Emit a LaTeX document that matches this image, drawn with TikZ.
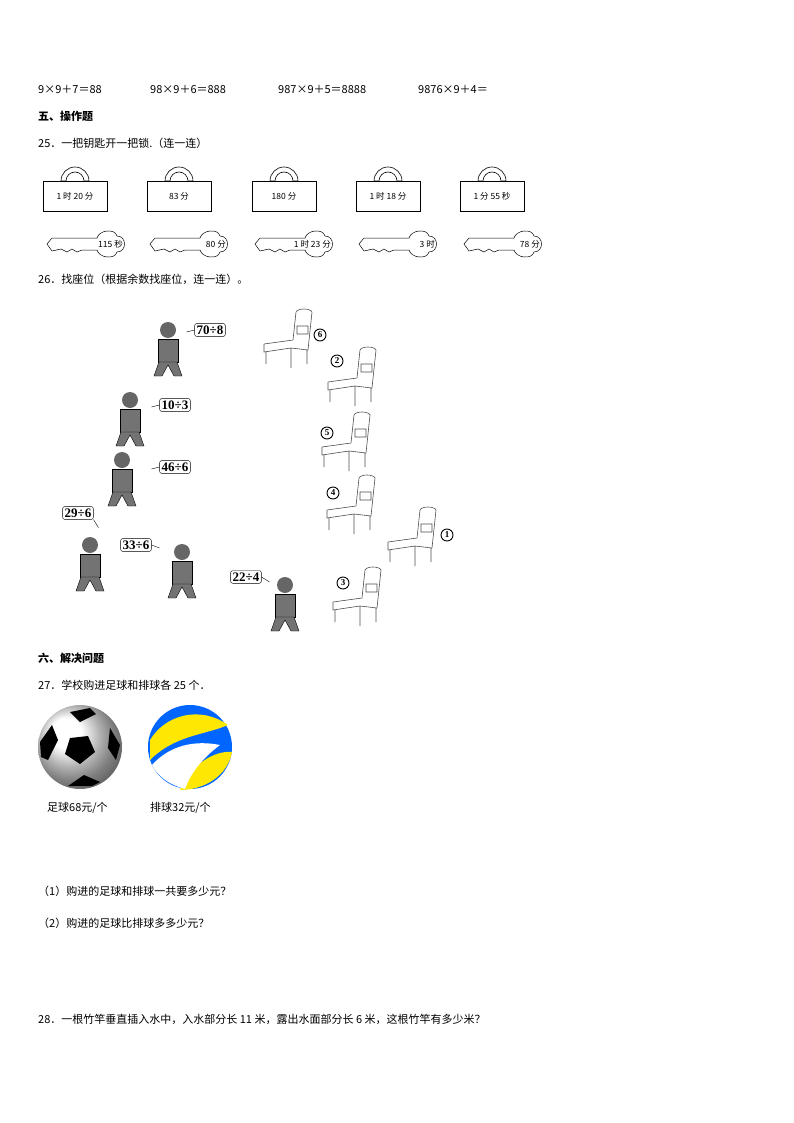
\documentclass[tikz,border=0pt]{standalone}
\usepackage{fontspec}
\setmainfont{Liberation Serif}
\newfontfamily\cjk{Noto Sans CJK SC}
\begin{document}
\begin{tikzpicture}[x=1pt,y=-1pt,
  txt/.style={anchor=west,inner sep=0,font=\cjk\fontsize{11}{13}\selectfont},
  bold/.style={txt,font=\cjk\bfseries\fontsize{11}{13}\selectfont},
  lockbody/.style={draw,line width=0.6pt,minimum width=64,minimum height=30,inner sep=0,font=\cjk\fontsize{8.5}{10}\selectfont},
  bubble/.style={draw,rounded corners=2,inner sep=2,font=\bfseries\fontsize{13}{15}\selectfont},
  num/.style={circle,draw,line width=0.9pt,inner sep=0,minimum size=12,font=\bfseries\fontsize{9}{10}\selectfont},
  kid/.style={fill=black!55,draw=black}]
\useasboundingbox (0,0) rectangle (794,1123);
\node[txt] (e1) at (38,90) {9×9＋7＝88};
\node[txt] (e2) at (150,90) {98×9＋6＝888};
\node[txt] (e3) at (278,90) {987×9＋5＝8888};
\node[txt] (e4) at (418,90) {9876×9＋4＝};
\node[bold] (h5) at (38,116) {五、操作题};
\node[txt] (q25) at (38,143) {25．一把钥匙开一把锁.（连一连）};
% locks
\foreach \x/\t [count=\i] in {75/1 时 20 分,179/83 分,284/180 分,388/1 时 18 分,492/1 分 55 秒}{
  \draw[line width=0.6pt,fill=white] (\x-14,181) arc (180:360:14) -- (\x+9,181) arc (360:180:9) -- cycle;
  \node[lockbody] (L\i) at (\x,196) {\t};
}
% keys
\foreach \x/\t [count=\i] in {87/115 秒,190/80 分,295/1 时 23 分,399/3 时,504/78 分}{
  \draw[line width=0.5pt] (\x-40,244) -- (\x-35,238) -- (\x+10,238) .. controls (\x+12,230) and (\x+28,228) .. (\x+30,236)
    .. controls (\x+40,236) and (\x+40,252) .. (\x+30,252) .. controls (\x+28,260) and (\x+12,258) .. (\x+10,250)
    -- (\x-5,250) -- (\x-10,252) -- (\x-15,249) -- (\x-20,252) -- (\x-26,249) -- (\x-35,251) -- cycle;
  \node[inner sep=0,anchor=east,font=\cjk\fontsize{8.5}{10}\selectfont] (K\i) at (\x+36,244) {\t};
}
\node[txt] (q26) at (38,279) {26．找座位（根据余数找座位，连一连）。};
% bubbles
\node[bubble] (b1) at (210,330) {70÷8};
\node[bubble] (b2) at (175,405) {10÷3};
\node[bubble] (b3) at (175,467) {46÷6};
\node[bubble] (b4) at (78,513) {29÷6};
\node[bubble] (b5) at (136,545) {33÷6};
\node[bubble] (b6) at (246,577) {22÷4};
% kids
\foreach \cx/\cy in {168/330, 130/400, 122/460, 90/545, 182/552, 285/585}{
  \fill[black!60] (\cx,\cy) circle (8);
  \draw[kid] (\cx-10,\cy+9) rectangle (\cx+10,\cy+32);
  \draw[kid] (\cx-9,\cy+32) -- (\cx-14,\cy+46) -- (\cx-6,\cy+46) -- (\cx,\cy+35) -- (\cx+6,\cy+46) -- (\cx+14,\cy+46) -- (\cx+9,\cy+32) -- cycle;
}
\draw (b1.west) -- ++(-8,2);
\draw (b2.west) -- ++(-8,2);
\draw (b3.west) -- ++(-8,2);
\draw (b4.south east) -- ++(5,8);
\draw (b5.east) -- ++(8,3);
\draw (b6.east) -- ++(8,5);
% chairs
\foreach \x/\y/\lx/\ly/\n [count=\i] in {288/342/320/335/6, 352/380/337/361/2, 346/445/327/433/5, 351/508/333/493/4, 412/540/447/535/1, 357/600/343/583/3}{
  \draw[black!70,line width=0.6pt] (\x+5,\y-2) -- (\x+8,\y-30) .. controls (\x+10,\y-34) and (\x+22,\y-34) .. (\x+24,\y-30) -- (\x+20,\y+8)
     (\x-24,\y+2) -- (\x+5,\y-2) (\x-24,\y+2) -- (\x-24,\y+10) -- (\x+3,\y+6) -- (\x+20,\y+8)
     (\x-22,\y+10) -- (\x-22,\y+22) (\x+3,\y+6) -- (\x+3,\y+26) (\x+19,\y+8) -- (\x+19,\y+22)
     (\x+9,\y-16) rectangle (\x+20,\y-8);
  \node[num] (c\i) at (\lx,\ly) {\n};
}
\node[bold] (h6) at (38,658) {六、解决问题};
\node[txt] (q27) at (38,685) {27．学校购进足球和排球各 25 个．};
% soccer ball
\shade[ball color=white] (80,747) circle (42);
\fill[black] (70,738) -- (88,736) -- (95,752) -- (80,764) -- (65,754) -- cycle;
\fill[black] (40,742) -- (52,725) -- (58,740) -- (48,760) -- (41,757) -- cycle;
\fill[black] (110,728) -- (120,745) -- (116,760) -- (108,748) -- cycle;
\fill[black] (70,712) -- (90,708) -- (96,714) -- (80,722) -- cycle;
\fill[black] (68,786) -- (92,786) -- (100,782) -- (84,775) -- cycle;
% volleyball
\fill[blue!60!cyan] (190,747) circle (42);
\fill[yellow!90!orange] (150,740) .. controls (165,715) and (200,705) .. (228,725) .. controls (205,735) and (175,735) .. (150,760) -- cycle;
\fill[yellow!90!orange] (180,790) .. controls (190,765) and (215,750) .. (232,752) .. controls (228,775) and (205,790) .. (180,790) -- cycle;
\fill[white] (152,765) .. controls (170,745) and (195,740) .. (220,745) .. controls (200,760) and (190,775) .. (185,789) .. controls (170,785) and (158,777) .. (152,765) -- cycle;
\node[txt] (s1) at (47,808) {足球68元/个};
\node[txt] (s2) at (150,808) {排球32元/个};
\node[txt] (p1) at (38,891) {（1）购进的足球和排球一共要多少元？};
\node[txt] (p2) at (38,923) {（2）购进的足球比排球多多少元？};
\node[txt] (q28) at (38,1019) {28．一根竹竿垂直插入水中，入水部分长 11 米，露出水面部分长 6 米，这根竹竿有多少米？};
\end{tikzpicture}
\end{document}
